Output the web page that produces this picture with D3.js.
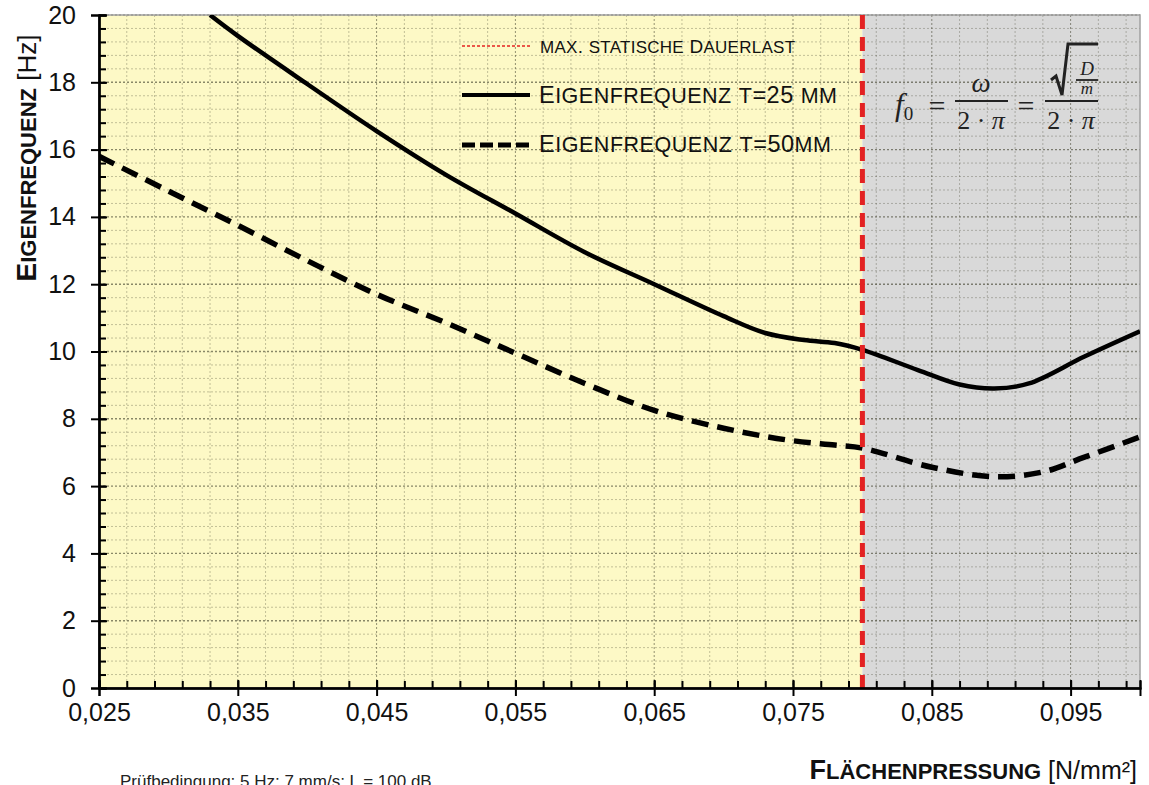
<!DOCTYPE html>
<html><head><meta charset="utf-8">
<script src="https://cdn.jsdelivr.net/npm/d3@7"></script>
<style>html,body{margin:0;padding:0;background:#fff;} svg{display:block;}</style>
</head><body><svg id="c" width="1149" height="785"></svg>
<script>
// ---- data ----
const pressure25 = [0.033,0.035,0.040,0.045,0.050,0.055,0.060,0.065,0.070,0.073,0.0758,0.078,0.080,0.084,0.087,0.0895,0.092,0.096,0.100];
const freq25     = [20.0, 19.38,17.95,16.55,15.25,14.1, 12.95,12.0, 11.05,10.55,10.34, 10.25,10.05,9.45, 9.02, 8.9,  9.05, 9.85, 10.6];
const pressure50 = [0.025,0.030,0.035,0.040,0.045,0.050,0.055,0.060,0.065,0.070,0.0746,0.078,0.080,0.085,0.0895,0.093,0.096,0.100];
const freq50     = [15.8, 14.77,13.75,12.7, 11.7, 10.85,9.95, 9.05, 8.25, 7.72, 7.37,  7.22, 7.13, 6.56, 6.28,  6.42, 6.86, 7.46];
const limitPressure = 0.08;
const xTicks = [0.025,0.035,0.045,0.055,0.065,0.075,0.085,0.095];
const yTicks = [0,2,4,6,8,10,12,14,16,18,20];
const legendLabels = ["max. statische Dauerlast","Eigenfrequenz t=25 mm","Eigenfrequenz t=50mm"];
const yTitle = "Eigenfrequenz", yUnit = " [Hz]";
const xTitle = "Flächenpressung", xUnit = " [N/mm²]";
const footnote = "Prüfbedingung: 5 Hz; 7 mm/s; L = 100 dB";

// ---- layout ----
const svg = d3.select("#c");
const L = 99, R = 1140, T = 15, B = 688;
const x = d3.scaleLinear([0.025, 0.1], [L, R]);
const y = d3.scaleLinear([0, 20], [B, T]);
const SANS = "'Liberation Sans', Arial, Helvetica, sans-serif";
const SERIF = "'Liberation Serif', 'Times New Roman', serif";
const de = d3.formatLocale({decimal: ",", thousands: ".", grouping: [3], currency: ["", "€"]});
const fx = de.format(".3f");

// backgrounds
svg.append("rect").attr("x", x(0.025)).attr("y", T).attr("width", x(limitPressure) - x(0.025)).attr("height", B - T).attr("fill", "#fdf9c6");
svg.append("rect").attr("x", x(limitPressure)).attr("y", T).attr("width", x(0.1) - x(limitPressure)).attr("height", B - T).attr("fill", "#d9d9d9");

// grid
const xMinor = d3.range(0, 38).map(i => 0.025 + i * 0.002);
const yMinor = d3.range(0, 51).map(i => i * 0.4);
const grid = svg.append("g");
grid.selectAll(".gx").data(xMinor.slice(1)).join("line")
  .attr("x1", d => x(d)).attr("x2", d => x(d)).attr("y1", T).attr("y2", B)
  .attr("stroke", (d, i) => ((i + 1) % 5 === 0) ? "rgba(60,60,40,0.55)" : "rgba(60,60,40,0.3)")
  .attr("stroke-width", 1).attr("stroke-dasharray", "2,2");
grid.selectAll(".gy").data(yMinor.slice(1)).join("line")
  .attr("x1", L).attr("x2", R).attr("y1", d => y(d)).attr("y2", d => y(d))
  .attr("stroke", (d, i) => ((i + 1) % 5 === 0) ? "rgba(60,60,40,0.6)" : "rgba(60,60,40,0.3)")
  .attr("stroke-width", (d, i) => ((i + 1) % 5 === 0) ? 1.4 : 1).attr("stroke-dasharray", "2,2");

// frame
svg.append("rect").attr("x", L).attr("y", T).attr("width", R - L).attr("height", B - T)
  .attr("fill", "none").attr("stroke", "#a0a0a0").attr("stroke-width", 1.5);

// clip
svg.append("clipPath").attr("id", "clip").append("rect").attr("x", L).attr("y", T).attr("width", R - L).attr("height", B - T);

// curves
const line = d3.line().x(d => x(d[0])).y(d => y(d[1])).curve(d3.curveCatmullRom.alpha(0.5));
const plot = svg.append("g").attr("clip-path", "url(#clip)");
plot.append("path").datum(d3.zip(pressure25, freq25)).attr("d", line)
  .attr("fill", "none").attr("stroke", "#000").attr("stroke-width", 4.5);
plot.append("path").datum(d3.zip(pressure50, freq50)).attr("d", line)
  .attr("fill", "none").attr("stroke", "#000").attr("stroke-width", 5.5).attr("stroke-dasharray", "17,9");

// limit line
svg.append("line").attr("x1", x(limitPressure)).attr("x2", x(limitPressure)).attr("y1", T).attr("y2", B)
  .attr("stroke", "#e32222").attr("stroke-width", 5).attr("stroke-dasharray", "14,8");

// axes
function styleAxis(g) {
  g.select(".domain").attr("stroke", "#000").attr("stroke-width", 2);
  g.selectAll(".tick line").attr("stroke", "#000").attr("stroke-width", 2);
  g.selectAll("text").attr("font-family", SANS).attr("font-size", 25).attr("fill", "#111");
}
svg.append("g").attr("transform", `translate(${L},0)`)
  .call(d3.axisLeft(y).tickValues(d3.range(0, 20.01, 0.4)).tickSize(-7).tickFormat(""))
  .call(styleAxis);
svg.append("g").attr("transform", `translate(${L},0)`)
  .call(d3.axisLeft(y).tickValues(yTicks).tickSize(-8).tickFormat(""))
  .call(styleAxis);
svg.append("g").attr("transform", `translate(${L},0)`)
  .call(d3.axisLeft(y).tickValues(yTicks).tickSize(8).tickPadding(15).tickFormat(d3.format("d")))
  .call(styleAxis);
svg.append("g").attr("transform", `translate(0,${B})`)
  .call(d3.axisBottom(x).tickValues(xMinor).tickSize(-7).tickFormat(""))
  .call(styleAxis);
svg.append("g").attr("transform", `translate(0,${B})`)
  .call(d3.axisBottom(x).tickValues(xTicks).tickSize(-8).tickFormat(""))
  .call(styleAxis);
svg.append("g").attr("transform", `translate(0,${B})`)
  .call(d3.axisBottom(x).tickValues(xTicks).tickSize(8).tickPadding(7).tickFormat(fx))
  .call(styleAxis);

// small caps helper
function smallCaps(text, str, big, small) {
  const runs = [];
  for (const c of str) {
    const isLower = c !== c.toUpperCase();
    const cls = isLower ? "s" : "b";
    const ch = isLower ? c.toUpperCase() : c;
    if (runs.length && runs[runs.length - 1].cls === cls) runs[runs.length - 1].t += ch;
    else runs.push({cls, t: ch});
  }
  runs.forEach(r => text.append("tspan").attr("font-size", r.cls === "s" ? small : big).text(r.t));
  return text;
}
function fitWidth(text, target) {
  const n = text.text().length;
  const w = text.node().getComputedTextLength();
  text.attr("letter-spacing", ((target - w) / (n - 1)).toFixed(2));
}

// legend
const lg = svg.append("g");
lg.append("line").attr("x1", 462).attr("x2", 532).attr("y1", 46).attr("y2", 46)
  .attr("stroke", "#e32222").attr("stroke-width", 1.5).attr("stroke-dasharray", "3,2");
lg.append("line").attr("x1", 462).attr("x2", 530).attr("y1", 95).attr("y2", 95)
  .attr("stroke", "#000").attr("stroke-width", 4);
lg.append("line").attr("x1", 462).attr("x2", 530).attr("y1", 145).attr("y2", 145)
  .attr("stroke", "#000").attr("stroke-width", 5).attr("stroke-dasharray", "13,5");
const lt0 = smallCaps(lg.append("text").attr("x", 540).attr("y", 53).attr("font-family", SANS).attr("fill", "#111"), legendLabels[0], 19, 17);
fitWidth(lt0, 255);
const lt1 = smallCaps(lg.append("text").attr("x", 539).attr("y", 103).attr("font-family", SANS).attr("fill", "#111"), legendLabels[1], 23.5, 21.5);
fitWidth(lt1, 298);
const lt2 = smallCaps(lg.append("text").attr("x", 539).attr("y", 152).attr("font-family", SANS).attr("fill", "#111"), legendLabels[2], 23.5, 21.5);
fitWidth(lt2, 292);

// y title
const yt = svg.append("text").attr("transform", "translate(36,158) rotate(-90)").attr("text-anchor", "middle")
  .attr("font-family", SANS).attr("fill", "#111");
const ytb = yt.append("tspan").attr("font-weight", "bold");
smallCaps(ytb, yTitle, 28, 22);
yt.append("tspan").attr("font-size", 26).text(yUnit);

// x title
const xt = svg.append("text").attr("x", 1137).attr("y", 779).attr("text-anchor", "end")
  .attr("font-family", SANS).attr("fill", "#111");
const xtb = xt.append("tspan").attr("font-weight", "bold");
smallCaps(xtb, xTitle, 27, 22);
xt.append("tspan").attr("font-size", 25).text(xUnit);

// footnote
svg.append("text").attr("x", 120).attr("y", 787).attr("font-family", SANS).attr("font-size", 17)
  .attr("fill", "#222").text(footnote);

// formula
const fg = svg.append("g").attr("font-family", SERIF).attr("fill", "#222");
const ft = fg.append("text").attr("x", 895).attr("y", 115).attr("font-size", 31);
ft.append("tspan").attr("font-style", "italic").text("f");
ft.append("tspan").attr("font-size", 19).attr("dy", 5).text("0");
fg.append("text").attr("x", 937).attr("y", 116).attr("font-size", 30).attr("text-anchor", "middle").text("=");
fg.append("line").attr("x1", 955).attr("x2", 1008).attr("y1", 101).attr("y2", 101).attr("stroke", "#222").attr("stroke-width", 2);
fg.append("text").attr("x", 981).attr("y", 92).attr("font-size", 27).attr("font-style", "italic").attr("text-anchor", "middle").text("ω");
const d1 = fg.append("text").attr("x", 981).attr("y", 129).attr("font-size", 26).attr("text-anchor", "middle");
d1.append("tspan").text("2 · ");
d1.append("tspan").attr("font-style", "italic").text("π");
fg.append("text").attr("x", 1026).attr("y", 116).attr("font-size", 30).attr("text-anchor", "middle").text("=");
fg.append("line").attr("x1", 1045).attr("x2", 1098).attr("y1", 101).attr("y2", 101).attr("stroke", "#222").attr("stroke-width", 2);
fg.append("path").attr("d", "M1051,80 L1056,76 L1062,95 L1068,44 L1098,44").attr("fill", "none")
  .attr("stroke", "#222").attr("stroke-width", 3).attr("stroke-linejoin", "miter");
fg.append("text").attr("x", 1087).attr("y", 75).attr("font-size", 19).attr("font-style", "italic").attr("text-anchor", "middle").text("D");
fg.append("line").attr("x1", 1076).attr("x2", 1098).attr("y1", 80).attr("y2", 80).attr("stroke", "#222").attr("stroke-width", 1.8);
fg.append("text").attr("x", 1087).attr("y", 94).attr("font-size", 17).attr("font-style", "italic").attr("text-anchor", "middle").text("m");
const d2 = fg.append("text").attr("x", 1071).attr("y", 129).attr("font-size", 26).attr("text-anchor", "middle");
d2.append("tspan").text("2 · ");
d2.append("tspan").attr("font-style", "italic").text("π");
</script>
</body></html>
